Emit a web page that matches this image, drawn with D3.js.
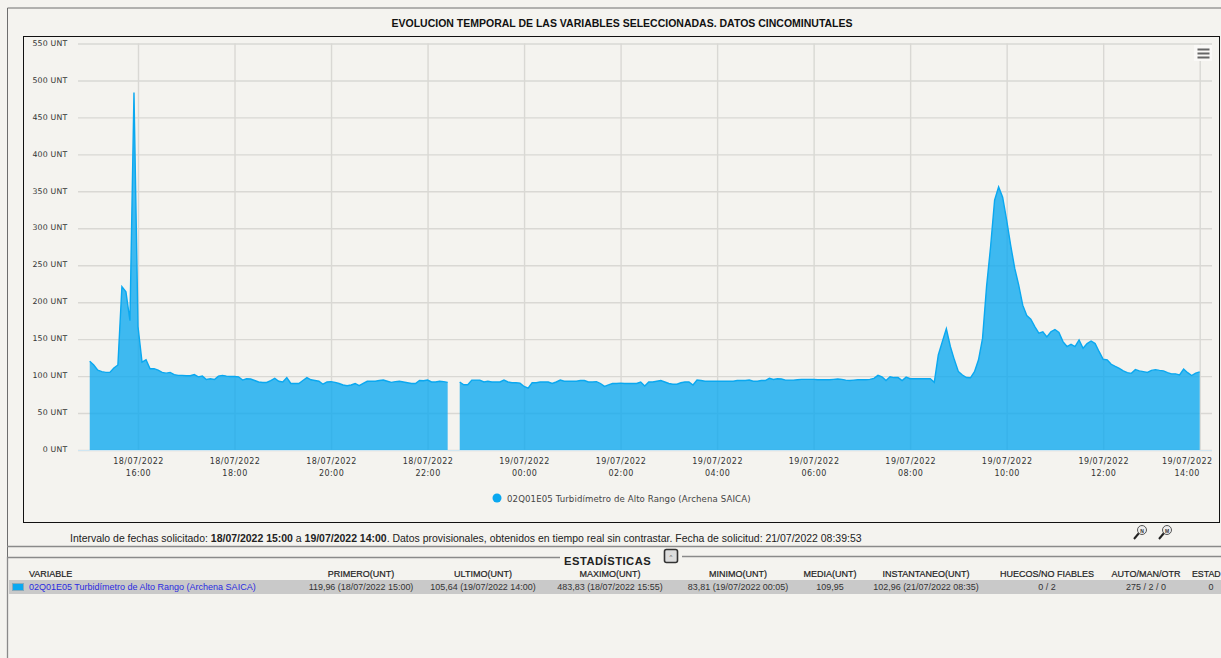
<!DOCTYPE html>
<html lang="es"><head><meta charset="utf-8">
<style>
html,body{margin:0;padding:0;background:#f4f3ef;overflow:hidden}
svg{display:block}
text{font-family:"Liberation Sans",Arial,sans-serif}
.tick text,.leg{font-family:"DejaVu Sans",Verdana,sans-serif}
</style>
<script src="https://cdn.jsdelivr.net/npm/d3@7/dist/d3.min.js"></script>
</head><body><svg id="c" width="1221" height="658"></svg>
<script>
const chartTitle = "EVOLUCION TEMPORAL DE LAS VARIABLES SELECCIONADAS. DATOS CINCOMINUTALES";
const seriesName = "02Q01E05 Turbidímetro de Alto Rango (Archena SAICA)";
const startTime = "2022-07-18T15:00:00";
const stepMinutes = 5;
// one row per hour, 5-minute samples
const h15 = [119.96,115,108,106,105,105,111,115,221,214,175,483.83];
const h16 = [167,119,122,110,110,108,105,104,105,102,101,101];
const h17 = [100.5,100.5,102,99,100,95.5,96.4,95.5,100,101,100,99.5];
const h18 = [99.5,99,94.6,96.4,96,94,92,91.4,91.4,94,97,93];
const h19 = [92,98,90,90,90,94,98,95,94,93,89,92];
const h20 = [92.5,91.5,90,88,87,88,90,87,90,93,93,93];
const h21 = [94,94.6,93,91.5,92.5,93,92,91,90,90,94,93.7];
const h22 = [94.6,92,92,93,92.5,91.5,null,null,92,88.3,88.3,94.6];
const h23 = [94.6,94.6,92,93,92,92,92,94.6,92,91,91,90.5];
const h00 = [86,83.81,91,91,92,92,92,90,92,94.6,93,93];
const h01 = [93,93,94,94,92,92,92.5,90,86,88,90,90];
const h02 = [90.5,90,90,90,90,92,86.5,92,92,93,94,92];
const h03 = [90,89,89,91,92,92,88,94.6,94,93,93,93];
const h04 = [93,93,93,93,93,94,94,94,94.6,93,93,94];
const h05 = [94,97,95.5,96.4,96,94.6,94.6,94.6,95,95.5,95.5,95.5];
const h06 = [95.5,95,95,95,95,95.5,96,95.5,94.6,94,94.6,95];
const h07 = [95,95,95.5,97,101,99,94,99,98,98,94,98.6];
const h08 = [96.4,96.4,96.4,96.4,96.4,96.4,91.6,128.5,146.6,164,140,122];
const h09 = [106,101.5,98,97.7,106,122,151,221,275,338,356,342];
const h10 = [311,277,246,223,196,182,177,167,158,160,153,160];
const h11 = [163,159,146.6,140,143,140,149,137.6,144,147.5,144,133];
const h12 = [122.7,122,116,113,110.5,107,104.6,103.7,108.7,107,106,105];
const h13 = [107.7,108.7,107.7,107,104.6,103,103,101.5,109.5,104.6,100.8,104];
const h14 = [105.64];
const seriesValues = [h15,h16,h17,h18,h19,h20,h21,h22,h23,h00,h01,h02,h03,h04,h05,h06,h07,h08,h09,h10,h11,h12,h13,h14].flat();

const yTicks = [0,50,100,150,200,250,300,350,400,450,500,550];
const xTickTimes = ["2022-07-18T16:00:00","2022-07-18T18:00:00","2022-07-18T20:00:00","2022-07-18T22:00:00","2022-07-19T00:00:00","2022-07-19T02:00:00","2022-07-19T04:00:00","2022-07-19T06:00:00","2022-07-19T08:00:00","2022-07-19T10:00:00","2022-07-19T12:00:00","2022-07-19T14:00:00"];

const tableHeaders = ["PRIMERO(UNT)","ULTIMO(UNT)","MAXIMO(UNT)","MINIMO(UNT)","MEDIA(UNT)","INSTANTANEO(UNT)","HUECOS/NO FIABLES","AUTO/MAN/OTR"];
const tableRow = ["119,96 (18/07/2022 15:00)","105,64 (19/07/2022 14:00)","483,83 (18/07/2022 15:55)","83,81 (19/07/2022 00:05)","109,95","102,96 (21/07/2022 08:35)","0 / 2","275 / 2 / 0"];
const tableCentres = [361,483,610,738,830,926,1047,1146];

const svg = d3.select("#c");
const BG="#f4f3ef", BLUE="#0aa8f0", GRID="#d9d8d4";
const parse = s => new Date(s);
const t0 = parse(startTime);
const points = seriesValues.map((v,i)=>({t:new Date(t0.getTime()+i*stepMinutes*60000),v}));

const x = d3.scaleTime().domain([parse(xTickTimes[0]),parse(xTickTimes[11])]).range([138,1199.7]);
const y = d3.scaleLinear().domain([0,550]).range([450,43.5]);

// page frame
svg.append("path").attr("d","M7.5,658V8H1221").attr("fill","none").attr("stroke","#6e6e6e");
svg.append("rect").attr("x",23.5).attr("y",36.5).attr("width",1196).attr("height",486).attr("fill",BG).attr("stroke","#111");
svg.append("text").attr("x",622).attr("y",27).attr("text-anchor","middle").attr("font-size",10.5).attr("font-weight","bold").attr("fill","#111").text(chartTitle);

// axes
const gy = svg.append("g").attr("transform","translate(78,0)")
  .call(d3.axisLeft(y).tickValues(yTicks).tickSize(-1134).tickPadding(10.5).tickFormat(d=>d+" UNT"));
gy.select(".domain").remove();
gy.selectAll("line").attr("stroke",GRID).attr("stroke-width",1.4);
gy.selectAll("text").attr("font-size",7.8).attr("fill","#333").attr("letter-spacing",.2).attr("dy","0.22em");

const gx = svg.append("g").attr("transform","translate(0,450)")
  .call(d3.axisBottom(x).tickValues(xTickTimes.map(parse)).tickSize(-406.5).tickPadding(9).tickFormat(()=>""));
gx.select(".domain").remove();
gx.selectAll("line").attr("stroke",GRID).attr("stroke-width",1.4);
const fDate=d3.timeFormat("%d/%m/%Y"), fHour=d3.timeFormat("%H:%M");
gx.selectAll(".tick text").attr("font-size",8).attr("fill","#333").attr("letter-spacing",.45)
  .each(function(d,i){
    const s=d3.select(this);
    // the last label is pulled inwards to stay inside the chart box
    const lx = i===xTickTimes.length-1 ? -13 : 0;
    s.append("tspan").attr("x",lx).attr("dy","0.6em").text(fDate(d));
    s.append("tspan").attr("x",lx).attr("dy","1.5em").text(fHour(d));
  });

// area and line
const defined = d=>d.v!==null;
svg.append("path").datum(points).attr("fill",BLUE).attr("fill-opacity",.78)
  .attr("d",d3.area().defined(defined).x(d=>x(d.t)).y0(y(0)).y1(d=>y(d.v)));
svg.append("path").datum(points).attr("fill","none").attr("stroke",BLUE).attr("stroke-width",1.4)
  .attr("d",d3.line().defined(defined).x(d=>x(d.t)).y(d=>y(d.v)));
svg.append("line").attr("x1",78).attr("x2",1212).attr("y1",450.5).attr("y2",450.5).attr("stroke","#cfe6f2");

// hamburger
svg.append("rect").attr("x",1194).attr("y",45).attr("width",18).attr("height",16).attr("fill","#faf9f7");
svg.selectAll(".mb").data([49,53,57]).join("rect").attr("class","mb").attr("x",1197.5).attr("y",d=>d-.5).attr("width",12).attr("height",2).attr("fill","#666");

// legend
svg.append("circle").attr("cx",497).attr("cy",498).attr("r",4.5).attr("fill",BLUE);
svg.append("text").attr("class","leg").attr("x",507).attr("y",502).attr("font-size",8.6).attr("font-weight","500").attr("fill","#444").attr("letter-spacing",.1).text(seriesName);

// footer note
const note=svg.append("text").attr("x",70).attr("y",542).attr("font-size",10.47).attr("fill","#222");
note.append("tspan").text("Intervalo de fechas solicitado: ");
note.append("tspan").attr("font-weight","bold").text("18/07/2022 15:00");
note.append("tspan").text(" a ");
note.append("tspan").attr("font-weight","bold").text("19/07/2022 14:00");
note.append("tspan").text(". Datos provisionales, obtenidos en tiempo real sin contrastar. Fecha de solicitud: 21/07/2022 08:39:53");

// magnifiers
[1140,1165].forEach((cx,i)=>{
  const g=svg.append("g").attr("transform",`translate(${cx},532)`);
  g.append("line").attr("x1",-6).attr("y1",7).attr("x2",-1).attr("y2",1).attr("stroke","#222").attr("stroke-width",2);
  g.append("circle").attr("cx",2).attr("cy",-2).attr("r",4.5).attr("fill","#eee").attr("stroke","#555");
  g.append("text").attr("x",2).attr("y",0.5).attr("text-anchor","middle").attr("font-size",5).attr("font-weight","bold").attr("fill","#333").text(i?"M":"N");
});

// statistics panel
svg.append("line").attr("x1",7).attr("x2",1221).attr("y1",546.5).attr("y2",546.5).attr("stroke","#8a8a8a").attr("stroke-width",1.3);
svg.append("path").attr("d","M7.5,658V557.5H560M682,556.5H1221").attr("fill","none").attr("stroke","#8a8a8a").attr("stroke-width",1.3);
svg.append("text").attr("x",564).attr("y",565).attr("font-size",11.2).attr("font-weight","bold").attr("letter-spacing",.5).attr("fill","#222").text("ESTADÍSTICAS");
svg.append("rect").attr("x",664.5).attr("y",549.5).attr("width",13).attr("height",13).attr("rx",2).attr("fill","#ddd").attr("stroke","#333").attr("stroke-width",1.6);
svg.append("text").attr("x",671).attr("y",558.5).attr("text-anchor","middle").attr("font-size",6).attr("fill","#555").text("^");

svg.append("rect").attr("x",9).attr("y",580).attr("width",1212).attr("height",14).attr("fill","#c9c9c9");
svg.append("rect").attr("x",12.5).attr("y",583.5).attr("width",11).attr("height",7).attr("fill",BLUE).attr("stroke","#8ab");
svg.append("text").attr("x",29).attr("y",577).attr("font-size",9).attr("fill","#222").attr("stroke","#222").attr("stroke-width",.2).text("VARIABLE");
svg.append("text").attr("x",29).attr("y",590).attr("font-size",9).attr("fill","#2a2ae0").text(seriesName);
svg.selectAll(".th").data(tableHeaders).join("text").attr("class","th").attr("x",(d,i)=>tableCentres[i]).attr("y",577)
  .attr("text-anchor","middle").attr("font-size",9).attr("fill","#222").attr("stroke","#222").attr("stroke-width",.2).text(d=>d);
svg.selectAll(".td").data(tableRow).join("text").attr("class","td").attr("x",(d,i)=>tableCentres[i]).attr("y",590)
  .attr("text-anchor","middle").attr("font-size",8.95).attr("fill","#333").text(d=>d);
svg.append("text").attr("x",1192).attr("y",577).attr("font-size",8.8).attr("fill","#222").attr("stroke","#222").attr("stroke-width",.2).text("ESTAD");
svg.append("text").attr("x",1211).attr("y",590).attr("text-anchor","middle").attr("font-size",8.95).attr("fill","#333").text("0");
</script></body></html>
